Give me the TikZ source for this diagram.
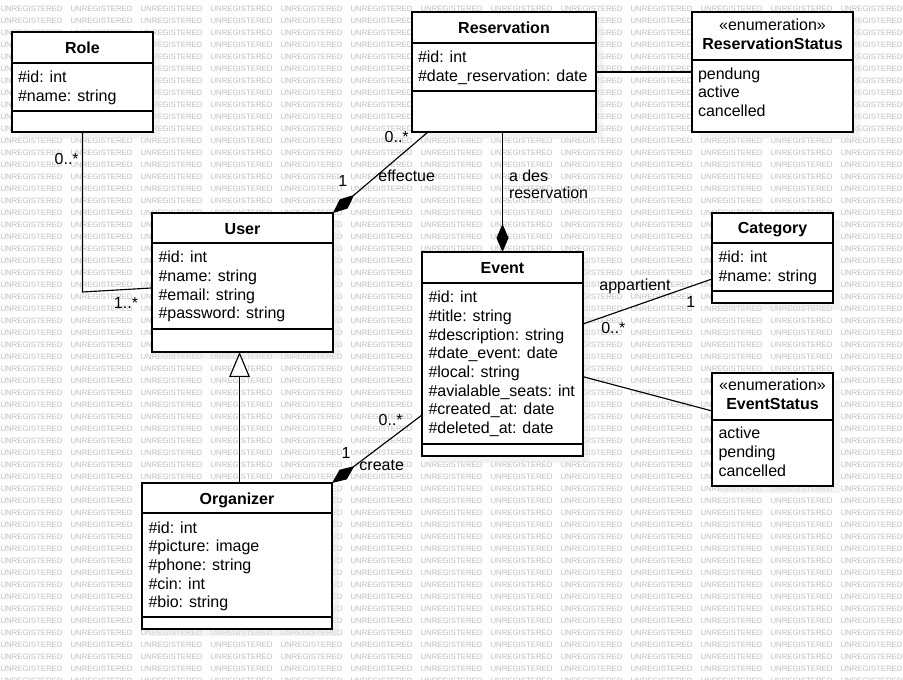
\documentclass[tikz,border=0pt]{standalone}
\usepackage{fontspec}
\setmainfont{Liberation Sans}
\usetikzlibrary{arrows.meta,fit}
\definecolor{wmgray}{HTML}{BEBEBE}
\newcommand\attrlist[4]{%
  \foreach \t [count=\i] in {#4}
    \node[txt] (#1-\i) at (#2, {#3+18.7*(\i-1)}) {\t};}
\begin{document}
\begin{tikzpicture}[x=0.75pt,y=-0.75pt,
  every node/.style={inner sep=0pt, outer sep=0pt},
  txt/.style={font=\fontsize{12}{14}\selectfont, anchor=base west},
  ttl/.style={font=\bfseries\fontsize{12}{14}\selectfont, anchor=base},
  stereo/.style={font=\fontsize{12}{14}\selectfont, anchor=base},
  lbl/.style={font=\fontsize{12}{14}\selectfont},
  wm/.style={font=\fontsize{5.85}{6}\selectfont, text=wmgray, anchor=west},
  classbox/.style={draw=black, line width=0.9pt, fill=white},
  shadowbox/.style={fill=gray!18, opacity=0.5},
  divider/.style={line width=0.9pt},
  link/.style={line width=0.85pt},
  compose/.style={link, -{Diamond[length=21pt,width=9pt]}},
  inherit/.style={link, -{Triangle[open,length=18.75pt,width=15.5pt,fill=white]}}
]
\useasboundingbox (0,0) rectangle (903,680);
\fill[white] (0,0) rectangle (903,680);

% background watermark
\foreach \r in {0,...,56}
  \foreach \c in {0,...,12}
    \node[wm] (wm-\r-\c) at ({70*\c+0.5}, {9+12*\r}) {UNREGISTERED};

% drop shadows of the class boxes
\foreach \a/\b/\c/\d in {12/32/153/132, 412/12/596/132, 692/12/853/132,
    152/213/333/352, 422/252/583/456, 712/213/833/303, 712/373/833/486,
    142/483/332/629}
  \fill[shadowbox] (\a+7,\b+7) rectangle (\c+7,\d+7);

% Role
\node[classbox, fit={(12,32) (153,132)}] (role) {};
\draw[divider] (12,63) -- (153,63) (12,111) -- (153,111);
\node[ttl] (role-title) at (82.5,54) {Role};
\attrlist{role}{18}{82.5}{\#id: int, \#name: string}

% Reservation
\node[classbox, fit={(412,12) (596,132)}] (res) {};
\draw[divider] (412,43) -- (596,43) (412,91) -- (596,91);
\node[ttl] (res-title) at (504,34) {Reservation};
\attrlist{res}{418}{62.8}{\#id: int, \#date\_reservation: date}

% ReservationStatus
\node[classbox, fit={(692,12) (853,132)}] (resst) {};
\draw[divider] (692,60) -- (853,60);
\node[stereo] (resst-stereo) at (772.5,31) {«enumeration»};
\node[ttl] (resst-title) at (772.5,50) {ReservationStatus};
\attrlist{resst}{698}{79.3}{pendung, active, cancelled}

% User
\node[classbox, fit={(152,213) (333,352)}] (user) {};
\draw[divider] (152,243) -- (333,243) (152,329) -- (333,329);
\node[ttl] (user-title) at (242.5,234.3) {User};
\attrlist{user}{158.5}{262.8}{\#id: int, \#name: string, \#email: string, \#password: string}

% Event
\node[classbox, fit={(422,252) (583,456)}] (event) {};
\draw[divider] (422,283) -- (583,283) (422,444) -- (583,444);
\node[ttl] (event-title) at (502.5,274) {Event};
\attrlist{event}{428.5}{302.8}{\#id: int, \#title: string, \#description: string,
  \#date\_event: date, \#local: string, \#avialable\_seats: int,
  \#created\_at: date, \#deleted\_at: date}

% Category
\node[classbox, fit={(712,213) (833,303)}] (cat) {};
\draw[divider] (712,243) -- (833,243) (712,291) -- (833,291);
\node[ttl] (cat-title) at (772.5,234) {Category};
\attrlist{cat}{718.5}{262.8}{\#id: int, \#name: string}

% EventStatus
\node[classbox, fit={(712,373) (833,486)}] (evst) {};
\draw[divider] (712,420) -- (833,420);
\node[stereo] (evst-stereo) at (772.5,391) {«enumeration»};
\node[ttl] (evst-title) at (772.5,409.5) {EventStatus};
\attrlist{evst}{718.5}{439}{active, pending, cancelled}

% Organizer
\node[classbox, fit={(142,483) (332,629)}] (org) {};
\draw[divider] (142,513) -- (332,513) (142,617) -- (332,617);
\node[ttl] (org-title) at (237,504.7) {Organizer};
\attrlist{org}{148.5}{533}{\#id: int, \#picture: image, \#phone: string, \#cin: int, \#bio: string}

% associations
\draw[link] (role.south) -- ++(0,160) -- ([yshift=-4.1pt]user.west);
\draw[compose] ([xshift=12pt]res.south west) -- (user.north east);
\draw[compose] (res.south -| event.north) -- (event.north);
\draw[link] (res.east) -- (resst.west |- res.east);
\draw[link] ([yshift=22.5pt]event.east) -- ([yshift=-15.75pt]cat.west);
\draw[link] ([yshift=-17pt]event.east) -- ([yshift=13.9pt]evst.west);
\draw[compose] ([yshift=-45.75pt]event.west) -- (org.north east);
\draw[inherit] ([xshift=1.9pt]org.north) -- ([xshift=1.9pt]org.north |- user.south);

% multiplicities and role names
\node[lbl] (m-role) at (66.7,159.3) {0..*};
\node[lbl] (m-user-role) at (126,303.3) {1..*};
\node[lbl] (m-res-user) at (396.7,137.3) {0..*};
\node[lbl] (m-user-res) at (342.7,180.7) {1};
\node[lbl] (l-effectue) at (406.7,176) {effectue};
\node[lbl, anchor=west] (l-ades) at (509,176) {a des};
\node[lbl, anchor=west] (l-reservation) at (509,193) {reservation};
\node[lbl, anchor=base] (l-appartient) at (635,291) {appartient};
\node[lbl] (m-cat) at (690.7,301.7) {1};
\node[lbl] (m-event-cat) at (613.3,328.3) {0..*};
\node[lbl] (m-event-org) at (390.7,420) {0..*};
\node[lbl] (m-org) at (346,453.3) {1};
\node[lbl] (l-create) at (381.7,465) {create};
\end{tikzpicture}
\end{document}
